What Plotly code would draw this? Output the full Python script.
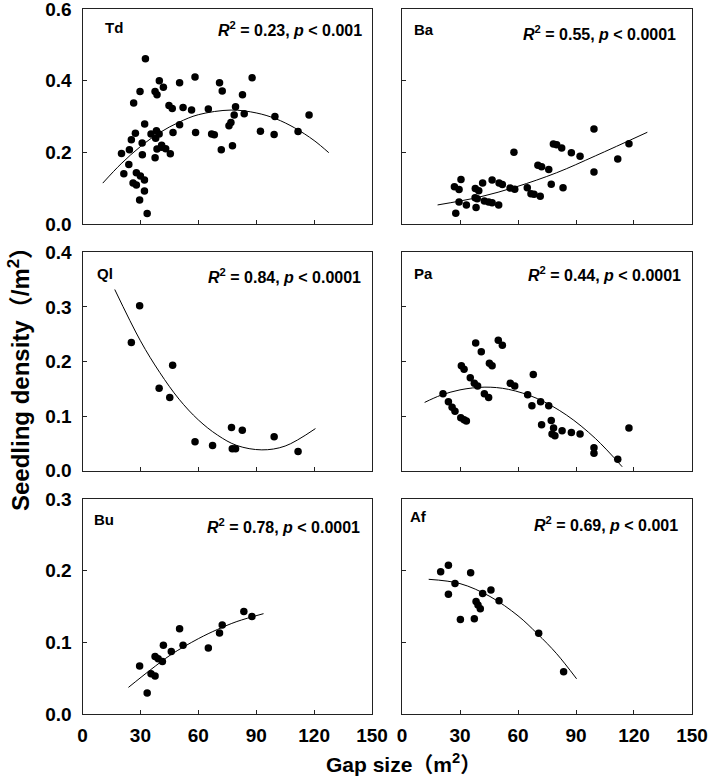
import plotly.graph_objects as go

# ---------------- data ----------------
panel_names = ["Td", "Ba", "Ql", "Pa", "Bu", "Af"]
stat_texts = ["0.23, <i>p</i> < 0.001", "0.55, <i>p</i> < 0.0001", "0.84, <i>p</i> < 0.0001",
              "0.44, <i>p</i> < 0.0001", "0.78, <i>p</i> < 0.0001", "0.69, <i>p</i> < 0.001"]

td_x = [32.6, 39.8, 50.3, 58.3, 71.0, 72.4, 87.9, 82.9, 29.8, 37.6, 38.6, 41.9, 26.5, 44.8, 46.5, 52.1,
        56.5, 65.2, 79.3, 78.6, 83.8, 99.7, 117.4, 32.2, 50.3, 75.9, 76.9, 27.4, 35.5, 38.3, 39.7, 37.9,
        25.3, 46.9, 58.6, 66.9, 68.3, 92.2, 99.3, 111.7, 30.9, 41.0, 38.6, 43.1, 40.9, 45.5, 37.6, 24.3,
        20.2, 31.0, 71.9, 77.7, 24.0, 21.4, 27.9, 30.0, 32.1, 26.2, 27.9, 32.1, 29.6, 33.5]
td_y = [0.461, 0.400, 0.394, 0.410, 0.394, 0.371, 0.408, 0.361, 0.370, 0.370, 0.361, 0.382, 0.338, 0.331,
        0.322, 0.325, 0.318, 0.321, 0.327, 0.304, 0.308, 0.300, 0.304, 0.279, 0.277, 0.274, 0.283, 0.253,
        0.251, 0.260, 0.251, 0.239, 0.235, 0.255, 0.255, 0.251, 0.249, 0.259, 0.250, 0.258, 0.226, 0.220,
        0.209, 0.210, 0.214, 0.196, 0.185, 0.207, 0.197, 0.193, 0.207, 0.218, 0.166, 0.140, 0.143, 0.134,
        0.123, 0.114, 0.109, 0.092, 0.067, 0.029]
td_fit_x = [10.5, 20, 30, 40, 50, 60, 77, 90, 100, 110, 120, 127.6]
td_fit_y = [0.114, 0.168, 0.216, 0.255, 0.284, 0.305, 0.318, 0.310, 0.294, 0.268, 0.233, 0.199]

ba_x = [99.3, 117.4, 78.3, 80.0, 82.6, 87.6, 92.1, 57.9, 111.6, 70.3, 72.2, 75.9, 99.3, 30.5, 46.6, 41.7,
        50.2, 51.9, 77.2, 27.1, 29.5, 55.9, 58.3, 64.8, 83.3, 37.9, 39.7, 66.7, 68.3, 71.5, 37.8, 38.9,
        29.5, 42.6, 44.8, 46.6, 33.3, 50.0, 38.3, 27.8]
ba_y = [0.265, 0.224, 0.223, 0.221, 0.212, 0.199, 0.189, 0.200, 0.181, 0.164, 0.160, 0.152, 0.145, 0.124,
        0.123, 0.114, 0.114, 0.110, 0.111, 0.104, 0.096, 0.100, 0.097, 0.101, 0.101, 0.099, 0.093, 0.084,
        0.083, 0.077, 0.073, 0.070, 0.061, 0.064, 0.061, 0.059, 0.053, 0.053, 0.046, 0.030]
ba_fit_x = [18.4, 40, 59.3, 80, 100, 126.9]
ba_fit_y = [0.053, 0.075, 0.104, 0.143, 0.190, 0.256]

ql_x = [29.6, 25.3, 46.7, 39.7, 45.2, 77.2, 82.8, 99.3, 58.3, 67.4, 77.6, 79.3, 111.7]
ql_y = [0.302, 0.235, 0.193, 0.151, 0.134, 0.079, 0.074, 0.062, 0.053, 0.046, 0.040, 0.040, 0.035]
ql_fit_x = [16.7, 30, 40, 50, 60, 70, 80, 92.9, 105, 120.7]
ql_fit_y = [0.332, 0.238, 0.180, 0.131, 0.093, 0.065, 0.046, 0.038, 0.045, 0.077]

pa_x = [38.1, 41.0, 49.8, 51.9, 30.7, 32.1, 45.2, 46.6, 67.9, 35.3, 37.4, 39.1, 56.0, 58.3, 21.2, 42.6,
        44.8, 65.0, 24.0, 25.9, 27.4, 30.4, 32.1, 33.3, 67.2, 71.7, 75.9, 77.2, 72.2, 78.4, 82.8, 77.6,
        79.1, 87.6, 92.1, 117.4, 99.3, 99.3, 111.6]
pa_y = [0.234, 0.218, 0.239, 0.230, 0.192, 0.186, 0.197, 0.192, 0.176, 0.170, 0.160, 0.155, 0.160, 0.155,
        0.141, 0.141, 0.134, 0.139, 0.126, 0.116, 0.109, 0.097, 0.093, 0.091, 0.119, 0.126, 0.119, 0.092,
        0.084, 0.078, 0.073, 0.067, 0.064, 0.070, 0.067, 0.078, 0.042, 0.032, 0.021]
pa_fit_x = [11.7, 20, 30, 42.9, 55, 70, 85, 100, 113.9]
pa_fit_y = [0.125, 0.138, 0.148, 0.153, 0.149, 0.132, 0.102, 0.059, 0.007]

bu_x = [83.6, 87.8, 50.3, 72.4, 71.0, 41.9, 52.1, 65.2, 46.0, 37.6, 39.2, 41.4, 29.6, 35.5, 37.6, 33.5]
bu_y = [0.143, 0.136, 0.119, 0.124, 0.113, 0.096, 0.096, 0.092, 0.087, 0.080, 0.077, 0.073, 0.067, 0.056,
        0.053, 0.029]
bu_fit_x = [23.8, 35, 46, 60, 70, 80, 93.8]
bu_fit_y = [0.037, 0.061, 0.083, 0.105, 0.118, 0.129, 0.140]

af_x = [24.0, 20.0, 35.5, 27.4, 46.0, 24.0, 41.7, 50.2, 38.3, 39.3, 40.5, 30.2, 37.4, 70.7, 83.6]
af_y = [0.2075, 0.1986, 0.197, 0.182, 0.173, 0.167, 0.168, 0.158, 0.157, 0.152, 0.147, 0.132, 0.133,
        0.1126, 0.059]
af_fit_x = [13.8, 30, 45.5, 60, 70, 80, 90.3]
af_fit_y = [0.188, 0.182, 0.164, 0.137, 0.112, 0.084, 0.049]

x_ticks = [0, 30, 60, 90, 120, 150]
row_y_max = [0.6, 0.4, 0.3]
row_y_ticks = [[0.0, 0.2, 0.4, 0.6], [0.0, 0.1, 0.2, 0.3, 0.4], [0.0, 0.1, 0.2, 0.3]]

points = [(td_x, td_y), (ba_x, ba_y), (ql_x, ql_y), (pa_x, pa_y), (bu_x, bu_y), (af_x, af_y)]
fits = [(td_fit_x, td_fit_y), (ba_fit_x, ba_fit_y), (ql_fit_x, ql_fit_y),
        (pa_fit_x, pa_fit_y), (bu_fit_x, bu_fit_y), (af_fit_x, af_fit_y)]

# ---------------- layout / style ----------------
W, H = 709, 778
col_px = [(82.5, 372), (402, 692)]
row_px = [(9, 224), (252.3, 470.7), (499, 714)]
name_offset = [(20, -19), (10, -21), (12, -21), (10, -21), (9, -20), (6, -17)]
stat_offset = [(-8, -20), (-14, -24), (-9, -24), (-9, -22), (-10, -27), (-12, -25)]

FONT = "Liberation Sans, Arial, Noto Sans CJK SC, sans-serif"
AXCOL = "#222222"

fig = go.Figure()
layout = dict(
    width=W, height=H,
    margin=dict(l=0, r=0, t=0, b=0, autoexpand=False),
    paper_bgcolor="white", plot_bgcolor="white",
    showlegend=False,
    font=dict(family=FONT, color="black", size=17),
    annotations=[],
)

for i in range(6):
    r, c = divmod(i, 2)
    ax = "" if i == 0 else str(i + 1)
    xs, ys = points[i]
    fx, fy = fits[i]
    fig.add_trace(go.Scatter(x=fx, y=fy, mode="lines", line=dict(color="black", width=1, shape="spline"),
                             xaxis="x" + ax, yaxis="y" + ax, hoverinfo="skip"))
    fig.add_trace(go.Scatter(x=xs, y=ys, mode="markers", marker=dict(color="black", size=7.5),
                             xaxis="x" + ax, yaxis="y" + ax))
    x0, x1 = col_px[c]
    y0, y1 = row_px[r]
    layout["xaxis" + ax] = dict(
        domain=[x0 / W, x1 / W], range=[-0.01, 150.01], anchor="y" + ax,
        tickvals=x_ticks, ticktext=[str(v) for v in x_ticks], showticklabels=(r == 2),
        ticks="inside", ticklen=4, tickcolor=AXCOL, showline=True, linecolor=AXCOL, linewidth=1,
        mirror=True, showgrid=False, zeroline=False, ticklabelstandoff=4, ticklabeloverflow="allow",
        tickfont=dict(size=19, family=FONT, weight="bold", color="black"),
    )
    yt = row_y_ticks[r]
    ymax = row_y_max[r]
    layout["yaxis" + ax] = dict(
        domain=[1 - y1 / H, 1 - y0 / H], range=[-0.0002, ymax + 0.0002], anchor="x" + ax,
        tickvals=yt, ticktext=["%.1f" % v for v in yt], showticklabels=(c == 0),
        ticks="inside", ticklen=4, tickcolor=AXCOL, showline=True, linecolor=AXCOL, linewidth=1,
        mirror=True, showgrid=False, zeroline=False, ticklabelstandoff=6, ticklabeloverflow="allow",
        tickfont=dict(size=19, family=FONT, weight="bold", color="black"),
    )
    xd = ("x" + ax) + " domain"
    yd = ("y" + ax) + " domain"
    layout["annotations"].append(dict(
        text="<b>%s</b>" % panel_names[i], xref=xd, yref=yd, x=0, y=1,
        xanchor="left", yanchor="middle", xshift=name_offset[i][0], yshift=name_offset[i][1],
        showarrow=False, font=dict(size=15, family=FONT, color="black")))
    layout["annotations"].append(dict(
        text="<b><i>R</i><sup>2</sup> = %s</b>" % stat_texts[i], xref=xd, yref=yd, x=1, y=1,
        xanchor="right", yanchor="middle", xshift=stat_offset[i][0], yshift=stat_offset[i][1],
        showarrow=False, font=dict(size=16, family=FONT, color="black")))

layout["annotations"].append(dict(
    text="<b>Seedling density（/m<sup>2</sup>）</b>", xref="paper", yref="paper",
    x=19 / W, y=1 - 373 / H, xanchor="center", yanchor="middle", textangle=-90,
    showarrow=False, font=dict(size=24, family=FONT, color="black")))
layout["annotations"].append(dict(
    text="<b>Gap size（m<sup>2</sup>）</b>", xref="paper", yref="paper",
    x=403 / W, y=1 - 763 / H, xanchor="center", yanchor="middle",
    showarrow=False, font=dict(size=21, family=FONT, color="black")))

fig.update_layout(**layout)
fig.write_html("out.html", config={"displayModeBar": False},
               post_script="document.body.style.margin='0';document.body.style.overflow='hidden';")
